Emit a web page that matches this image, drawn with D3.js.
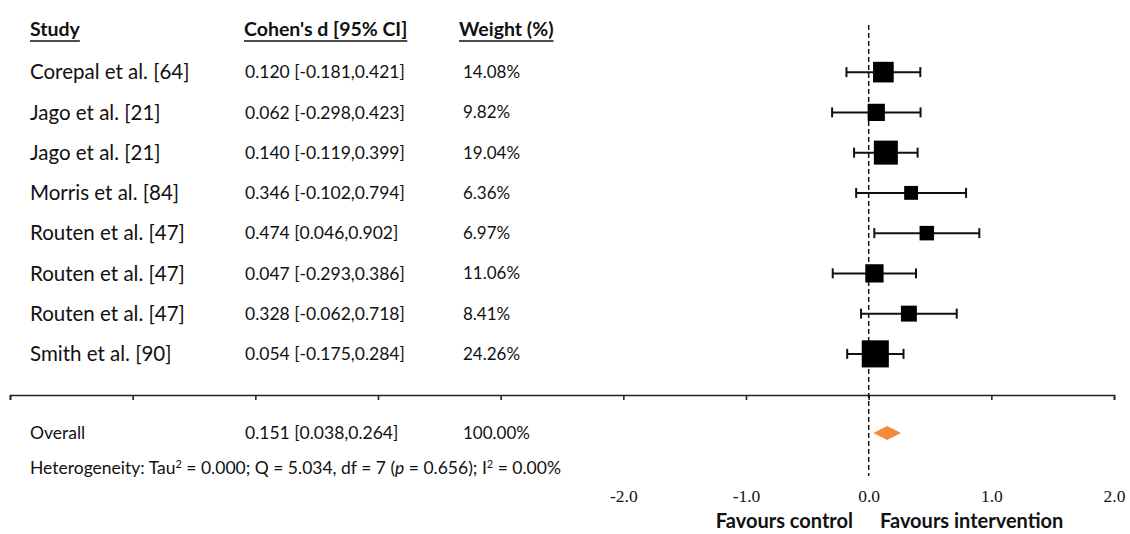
<!DOCTYPE html>
<html>
<head>
<meta charset="utf-8">
<script src="https://cdn.jsdelivr.net/npm/d3@7"></script>
<style>
  html, body { margin: 0; padding: 0; background: #ffffff; }
  svg { display: block; }
  .lbl { font-family: Lato, "Open Sans", sans-serif; fill: #111; }
  .serif { font-family: "Liberation Serif", "DejaVu Serif", serif; fill: #111; }
</style>
</head>
<body>
<svg id="chart" width="1130" height="534"></svg>
<script>
// Study rows of the forest plot
const studies = ["Corepal et al. [64]", "Jago et al. [21]", "Jago et al. [21]", "Morris et al. [84]",
                 "Routen et al. [47]", "Routen et al. [47]", "Routen et al. [47]", "Smith et al. [90]"];
const effect = [0.120, 0.062, 0.140, 0.346, 0.474, 0.047, 0.328, 0.054];
const ciLow  = [-0.181, -0.298, -0.119, -0.102, 0.046, -0.293, -0.062, -0.175];
const ciHigh = [0.421, 0.423, 0.399, 0.794, 0.902, 0.386, 0.718, 0.284];
const weight = [14.08, 9.82, 19.04, 6.36, 6.97, 11.06, 8.41, 24.26];

// Pooled estimate
const overall = { label: "Overall", d: 0.151, lo: 0.038, hi: 0.264, weight: 100.00 };

// Axis
const axisTicks = [-7, -6, -5, -4, -3, -2, -1, 0, 1, 2];
const tickLabels = [-2, -1, 0, 1, 2];

const svg = d3.select("#chart");

// Plain hyphen for negative numbers
const locale = d3.formatLocale({ decimal: ".", thousands: ",", grouping: [3], currency: ["", ""], minus: "-" });
const fmt3 = locale.format(".3f");
const fmt1 = locale.format(".1f");
const fmtW = d => locale.format(".2f")(d) + "%";

const x = d3.scaleLinear().domain([-7, 2]).range([10, 1114]);
const y = d3.scaleBand().domain(d3.range(studies.length)).range([52, 374]).paddingInner(0);
const rowY = i => y(i) + y.bandwidth() / 2;
const side = d3.scaleSqrt().domain([0, 25]).range([0, 27.5]);

// Column headers
const headers = [
  { text: "Study", x: 30 },
  { text: "Cohen's d [95% CI]", x: 244 },
  { text: "Weight (%)", x: 459 }
];
headers.forEach(h => {
  const t = svg.append("text").attr("class", "lbl")
    .attr("x", h.x).attr("y", 36)
    .attr("font-size", 19.5).attr("font-weight", "bold")
    .text(h.text);
  const w = t.node().getComputedTextLength();
  svg.append("line").attr("x1", h.x).attr("x2", h.x + w)
    .attr("y1", 41).attr("y2", 41)
    .attr("stroke", "#111").attr("stroke-width", 1.4);
});

// Text columns for each study
const rows = svg.append("g");
studies.forEach((s, i) => {
  const cy = rowY(i);
  rows.append("text").attr("class", "lbl").attr("x", 30).attr("y", cy).attr("dy", "0.35em")
    .attr("font-size", 20.5).text(s);
  rows.append("text").attr("class", "lbl").attr("x", 245).attr("y", cy).attr("dy", "0.35em")
    .attr("font-size", 17.5)
    .text(`${fmt3(effect[i])} [${fmt3(ciLow[i])},${fmt3(ciHigh[i])}]`);
  rows.append("text").attr("class", "lbl").attr("x", 463).attr("y", cy).attr("dy", "0.35em")
    .attr("font-size", 17).text(fmtW(weight[i]));
});

// Overall row and heterogeneity
const oy = 433;
svg.append("text").attr("class", "lbl").attr("x", 30).attr("y", oy).attr("dy", "0.35em")
  .attr("font-size", 17.5).text(overall.label);
svg.append("text").attr("class", "lbl").attr("x", 245).attr("y", oy).attr("dy", "0.35em")
  .attr("font-size", 17.5).text(`${fmt3(overall.d)} [${fmt3(overall.lo)},${fmt3(overall.hi)}]`);
svg.append("text").attr("class", "lbl").attr("x", 463).attr("y", oy).attr("dy", "0.35em")
  .attr("font-size", 17).text(fmtW(overall.weight));

const het = svg.append("text").attr("class", "lbl").attr("x", 30).attr("y", 468).attr("dy", "0.35em")
  .attr("font-size", 17.5);
het.append("tspan").text("Heterogeneity: Tau");
het.append("tspan").attr("font-size", 11).attr("dy", "-0.55em").text("2");
het.append("tspan").attr("dy", "0.35em").attr("font-size", 17.5).text(" = 0.000; Q = 5.034, df = 7 (");
het.append("tspan").attr("font-style", "italic").text("p");
het.append("tspan").text(" = 0.656); I");
het.append("tspan").attr("font-size", 11).attr("dy", "-0.55em").text("2");
het.append("tspan").attr("dy", "0.35em").attr("font-size", 17.5).text(" = 0.00%");

// Axis line with ticks
const axisY = 395;
const axisG = svg.append("g").attr("transform", `translate(0,${axisY})`)
  .call(d3.axisBottom(x).tickValues(axisTicks).tickSize(5).tickSizeOuter(5).tickFormat(""));
axisG.select(".domain").attr("stroke", "#222").attr("stroke-width", 1.6);
axisG.selectAll(".tick line").attr("stroke", "#222").attr("stroke-width", 1.6);

// Tick labels further below
const labG = svg.append("g").attr("transform", `translate(0,487)`)
  .call(d3.axisBottom(x).tickValues(tickLabels).tickSize(0).tickFormat(fmt1));
labG.select(".domain").remove();
labG.selectAll("text").attr("class", "serif").attr("font-size", 17.5).attr("fill", "#111");

// Line of no effect
svg.append("line").attr("x1", x(0)).attr("x2", x(0))
  .attr("y1", 25).attr("y2", 476)
  .attr("stroke", "#111").attr("stroke-width", 1.5).attr("stroke-dasharray", "5,3");

// Confidence intervals
const ci = svg.append("g").attr("stroke", "#111").attr("stroke-width", 2);
studies.forEach((s, i) => {
  const cy = rowY(i);
  ci.append("line").attr("x1", x(ciLow[i])).attr("x2", x(ciHigh[i])).attr("y1", cy).attr("y2", cy);
  ci.append("line").attr("x1", x(ciLow[i])).attr("x2", x(ciLow[i])).attr("y1", cy - 5).attr("y2", cy + 5);
  ci.append("line").attr("x1", x(ciHigh[i])).attr("x2", x(ciHigh[i])).attr("y1", cy - 5).attr("y2", cy + 5);
});

// Weighted squares
svg.append("g").selectAll("rect").data(effect).join("rect")
  .attr("x", (d, i) => x(d) - side(weight[i]) / 2)
  .attr("y", (d, i) => rowY(i) - side(weight[i]) / 2)
  .attr("width", (d, i) => side(weight[i]))
  .attr("height", (d, i) => side(weight[i]))
  .attr("fill", "#000");

// Pooled diamond
const dh = 7;
svg.append("path")
  .attr("d", `M${x(overall.lo)},${oy} L${x(overall.d)},${oy - dh} L${x(overall.hi)},${oy} L${x(overall.d)},${oy + dh} Z`)
  .attr("fill", "#F28A3C");

// Direction labels
svg.append("text").attr("class", "lbl").attr("x", 853).attr("y", 528)
  .attr("text-anchor", "end").attr("font-size", 20).attr("font-weight", "bold").text("Favours control");
svg.append("text").attr("class", "lbl").attr("x", 880).attr("y", 528)
  .attr("font-size", 20).attr("font-weight", "bold").text("Favours intervention");
</script>
</body>
</html>
